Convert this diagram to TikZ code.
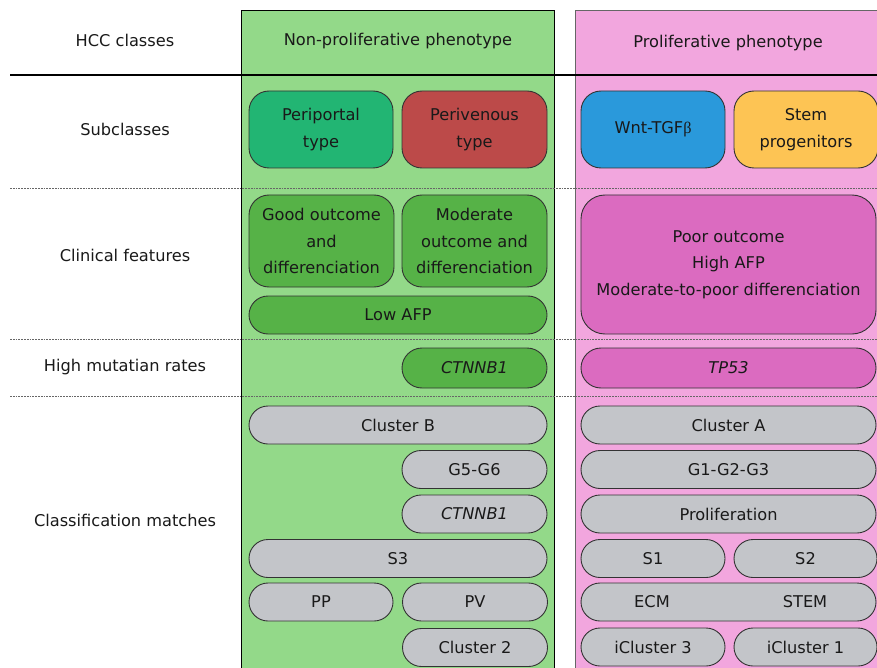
\documentclass[tikz,border=0pt]{standalone}
\usepackage{fontspec}
\setmainfont{DejaVu Sans}
\newfontfamily\symfont{Liberation Serif}
\definecolor{greenbg}{HTML}{93D989}
\definecolor{greenbox}{HTML}{56B247}
\definecolor{portal}{HTML}{22B573}
\definecolor{venous}{HTML}{BC4A49}
\definecolor{wntblue}{HTML}{2A99DB}
\definecolor{stemorange}{HTML}{FDC454}
\definecolor{pinkbg}{HTML}{F2A6DE}
\definecolor{pinkbox}{HTML}{DB6BC0}
\definecolor{pillgray}{HTML}{C3C5C9}
\definecolor{edge}{HTML}{333333}
\begin{document}
\begin{tikzpicture}[x=1pt,y=-1pt,
  every node/.style={font=\fontsize{16.2}{26.5}\selectfont, text=black!90},
  box/.style={draw=edge, line width=0.9pt, inner sep=0pt, align=center, rounded corners=20pt},
  pill/.style={draw=edge, line width=0.9pt, inner sep=0pt, align=center, rounded corners=19pt, fill=pillgray, minimum height=38pt},
  rowlabel/.style={align=center},
  sep/.style={draw=black!60, line width=0.9pt, dash pattern=on 1.8pt off 1.0pt}
]
\useasboundingbox (0,0) rectangle (877,668);
% columns
\fill[greenbg] (241,11) rectangle (554,680);
\draw[black, line width=1pt] (241,680) -- (241,11) -- (554,11) -- (554,680);
\fill[pinkbg] (575,11) rectangle (890,680);
\draw[black!60, line width=1pt] (575,680) -- (575,11) -- (890,11);
% separator lines
\coordinate (l0) at (10,75); \coordinate (r0) at (877,75);
\coordinate (l1) at (10,188.5); \coordinate (r1) at (877,188.5);
\coordinate (l2) at (10,339.5); \coordinate (r2) at (877,339.5);
\coordinate (l3) at (10,396.5); \coordinate (r3) at (877,396.5);
\draw[black, line width=1.2pt] (l0) -- (r0);
\draw[sep] (l1) -- (r1);
\draw[sep] (l2) -- (r2);
\draw[sep] (l3) -- (r3);
% row labels
\node[rowlabel] (hcc) at (125,40) {HCC classes};
\node[rowlabel] (sub) at (125,129.5) {Subclasses};
\node[rowlabel] (clin) at (125,255) {Clinical features};
\node[rowlabel] (mut) at (125,367.5) {High mutatian rates};
\node[rowlabel] (cls) at (125,520) {Classification matches};
% column titles
\node (nonp) at (398,41) {Non-proliferative phenotype};
\node (prol) at (728,43.5) {Proliferative phenotype};
% subclasses
\node[box, fill=portal, minimum width=144pt, minimum height=77pt] (pp) at (321,129.5) {Periportal\\type};
\node[box, fill=venous, minimum width=145pt, minimum height=77pt] (pv) at (474.5,129.5) {Perivenous\\type};
\node[box, fill=wntblue, minimum width=144pt, minimum height=77pt] (wnt) at (653,129.5) {Wnt-TGF{\symfont β}};
\node[box, fill=stemorange, minimum width=144pt, minimum height=77pt] (stem) at (806,129.5) {Stem\\progenitors};
% clinical
\node[box, fill=greenbox, minimum width=145pt, minimum height=92pt] (good) at (321.5,241) {Good outcome\\and\\differenciation};
\node[box, fill=greenbox, minimum width=145pt, minimum height=92pt] (mod) at (474.5,241) {Moderate\\outcome and\\differenciation};
\node[box, fill=greenbox, minimum width=298pt, minimum height=38pt, rounded corners=19pt] (afp) at (398,315) {Low AFP};
\node[box, fill=pinkbox, minimum width=295pt, minimum height=139pt, rounded corners=24pt] (poor) at (728.5,264.5) {Poor outcome\\High AFP\\Moderate-to-poor differenciation};
% mutations
\node[box, fill=greenbox, minimum width=145pt, minimum height=40pt, rounded corners=20pt] (ctn) at (474.5,368) {\itshape CTNNB1};
\node[box, fill=pinkbox, minimum width=295pt, minimum height=40pt, rounded corners=20pt] (tp) at (728.5,368) {\itshape TP53};
% classification left
\node[pill, minimum width=298pt] (clB) at (398,425) {Cluster B};
\node[pill, minimum width=145pt] (g56) at (474.5,469.5) {G5-G6};
\node[pill, minimum width=145pt] (ctnb) at (474.5,514) {\itshape CTNNB1};
\node[pill, minimum width=298pt] (s3) at (398,558.5) {S3};
\node[pill, minimum width=144pt] (ppc) at (321,602) {PP};
\node[pill, minimum width=145pt] (pvc) at (475,602) {PV};
\node[pill, minimum width=145pt] (cl2) at (475,647.5) {Cluster 2};
% classification right
\node[pill, minimum width=295pt] (clA) at (728.5,425) {Cluster A};
\node[pill, minimum width=295pt] (g123) at (728.5,469.5) {G1-G2-G3};
\node[pill, minimum width=295pt] (prolif) at (728.5,514) {Proliferation};
\node[pill, minimum width=144pt] (s1) at (653,558.5) {S1};
\node[pill, minimum width=143pt] (s2) at (805.5,558.5) {S2};
\node[pill, minimum width=295pt] (ecm) at (728.5,602) {};
\node (ecmt) at (652,602) {ECM};
\node (stemt) at (805,602) {STEM};
\node[pill, minimum width=144pt] (ic3) at (653,647) {iCluster 3};
\node[pill, minimum width=143pt] (ic1) at (805.5,647) {iCluster 1};
\end{tikzpicture}
\end{document}
